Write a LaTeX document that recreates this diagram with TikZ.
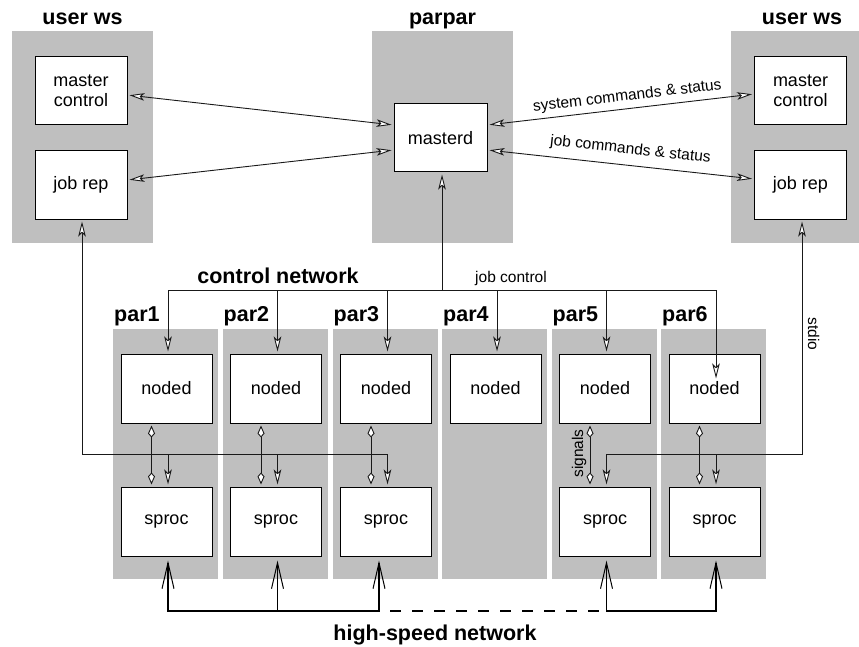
\documentclass[tikz,border=0pt]{standalone}
\usepackage{fontspec}
\setmainfont{Liberation Sans}
\usetikzlibrary{arrows.meta,calc}
\tikzset{
  host/.style={fill=gray!50},
  proc/.style={draw=black, line width=1pt, fill=white, minimum width=91pt,
    minimum height=69pt, inner sep=0pt, align=center,
    font=\fontsize{18}{20}\selectfont},
  title/.style={font=\fontsize{21.5}{24}\selectfont\bfseries, inner sep=0pt},
  note/.style={font=\fontsize{15.5}{18}\selectfont, inner sep=0pt},
  wire/.style={line width=0.9pt, draw=black!90},
  opentip/.tip={Stealth[fill=white, length=15pt, width=7.5pt, inset=3.5pt]},
  kitetip/.tip={Kite[fill=white, length=12pt, width=7pt, inset=4pt]},
  barbtip/.tip={Straight Barb[length=26pt, width=12pt, line width=1pt]},
  tipped/.style={wire, -opentip, shorten >=2pt},
  both/.style={wire, opentip-opentip, shorten >=2pt, shorten <=2pt},
  duplex/.style={wire, kitetip-kitetip, shorten >=2pt, shorten <=2pt},
  hsnet/.style={line width=1.6pt},
  hstip/.style={hsnet, -barbtip, shorten >=4pt},
  hsboth/.style={hsnet, barbtip-barbtip, shorten >=4pt, shorten <=4pt},
}
\begin{document}
\begin{tikzpicture}[x=1pt,y=-1pt]
\useasboundingbox (0,0) rectangle (859,647);

% workstations and the parpar host
\fill[host] (12,31) rectangle (153,243);
\fill[host] (372,31) rectangle (513,243);
\fill[host] (731,31) rectangle (859,243);
\node[title, anchor=base] (ws1) at (82.5,25) {user ws};
\node[title, anchor=base] (pp) at (442.5,25) {parpar};
\node[title, anchor=base] (ws2) at (802,25) {user ws};

\node[proc, minimum width=92pt, minimum height=68pt] (mc1) at (81,91) {master\\control};
\node[proc, minimum width=92pt, minimum height=68pt] (jr1) at (81,185) {job rep};
\node[proc, minimum width=93pt, minimum height=68pt] (md) at (440.5,138) {masterd};
\node[proc, minimum width=92pt, minimum height=68pt] (mc2) at (800.5,91) {master\\control};
\node[proc, minimum width=92pt, minimum height=68pt] (jr2) at (800.5,185) {job rep};

% compute nodes
\foreach \i/\x in {1/166.5,2/276,3/386,4/495.5,5/605,6/714.5}{
  \fill[host] (\x-53.5,329) rectangle (\x+51.5,579);
  \node[title, anchor=base west] (par\i) at (\x-52.5,321) {par\i};
  \node[proc] (noded\i) at (\x,388.5) {noded};
}
\foreach \i/\x in {1/166.5,2/276,3/386,5/605,6/714.5}{
  \node[proc] (sproc\i) at (\x,521.5) {sproc};
}

% rows of the networks
\coordinate (cnrow) at (0,290);
\coordinate (sdrow) at (0,454);
\coordinate (hsrow) at (0,611);

% commands and status between masterd and the workstations
\draw[both] ($(mc1.east)+(0,4)$) -- ($(md.west)+(0,-13)$);
\draw[both] ($(jr1.east)+(0,-5)$) -- ($(md.west)+(0,12)$);
\draw[both] ($(md.east)+(0,-13)$) -- node[note, sloped, above=4.5pt, pos=0.53] (sysl) {system commands \& status} ($(mc2.west)+(0,3)$);
\draw[both] ($(md.east)+(0,12)$) -- node[note, sloped, above=8pt, pos=0.53] (jobl) {job commands \& status} ($(jr2.west)+(0,-6)$);

% control network
\foreach \i in {1,...,6} \coordinate (nt\i) at ($(noded\i.north)+(1.5,0)$);
\coordinate (mb) at ($(md.south)+(1.5,0)$);
\draw[both] (nt1) |- (nt6 |- cnrow) -- ($(nt6)+(0,27)$);
\draw[tipped] (mb |- cnrow) -- (mb);
\foreach \i in {2,...,5} \draw[tipped] (nt\i |- cnrow) -- (nt\i);
\node[title, anchor=base] (cn) at (278,283) {control network};
\node[note, anchor=base] (jc) at (511,282) {job control};

% signals between noded and sproc, stdio to the job reps
\foreach \i in {1,2,3,5,6}{
  \coordinate (st\i) at ($(sproc\i.north)+(1.5,0)$);
  \coordinate (sb\i) at ($(sproc\i.south)+(1.5,0)$);
  \draw[duplex] ($(noded\i.south)+(-15,0)$) -- ($(sproc\i.north)+(-15,0)$);
}
\coordinate (jb1) at ($(jr1.south)+(1,0)$);
\coordinate (jb2) at ($(jr2.south)+(1.5,0)$);
\draw[both] (jb1) |- (st3 |- sdrow) -- (st3);
\draw[tipped] (st1 |- sdrow) -- (st1);
\draw[tipped] (st2 |- sdrow) -- (st2);
\draw[both] (jb2) |- (st5 |- sdrow) -- (st5);
\draw[tipped] (st6 |- sdrow) -- (st6);
\node[note, rotate=-90, anchor=base] (stdio) at (808,334) {stdio};
\node[note, rotate=90, anchor=base] (sig) at (583,453.5) {signals};

% high-speed network
\coordinate (hb3) at ($(sproc3.south)+(-7,0)$);
\draw[hsboth] (sb1) |- (hb3 |- hsrow) -- (hb3);
\draw[hstip] (sb2 |- hsrow) -- (sb2);
\draw[hsnet, dash pattern=on 11pt off 11pt, dash phase=11pt] (hb3 |- hsrow) -- (sb5 |- hsrow);
\draw[hsboth] (sb5) |- (sb6 |- hsrow) -- (sb6);
\node[title, anchor=base] (hs) at (435,640) {high-speed network};
\end{tikzpicture}
\end{document}
